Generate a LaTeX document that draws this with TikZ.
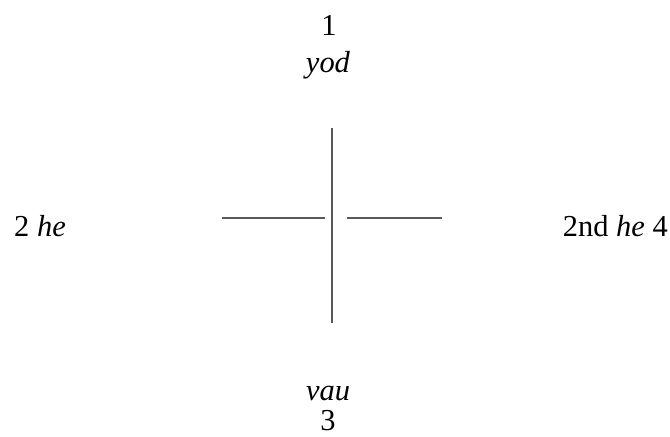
\documentclass[tikz,border=0pt]{standalone}
\usepackage{fontspec}
\setmainfont{Liberation Serif}
\usetikzlibrary{positioning}

\begin{document}
\begin{tikzpicture}[x=0.03cm, y=-0.03cm, font=\fontsize{26}{28}\selectfont,
    lbl/.style={inner sep=0pt, anchor=base},
    bar/.style={draw=black!65, line width=1.5pt}]
    \useasboundingbox (0,0) rectangle (670,436);
    % labels
    \node[lbl] (one) at (329,35) {1};
    \node[lbl] (yod) at (328,72) {\textit{yod}};
    \node[lbl, anchor=base west] (he) at (14,236) {2 \textit{he}};
    \node[lbl, anchor=base east] (he2) at (668,236) {2nd \textit{he} 4};
    \node[lbl] (vau) at (328,400) {\textit{vau}};
    \node[lbl] (three) at (328,430) {3};
    % cross
    \coordinate (top) at (332,128);
    \coordinate (bot) at (332,323);
    \coordinate (lw) at (222,218);
    \coordinate (le) at (325,218);
    \coordinate (rw) at (347,218);
    \coordinate (re) at (442,218);
    \draw[bar] (top) -- (bot);
    \draw[bar] (lw) -- (le);
    \draw[bar] (rw) -- (re);
\end{tikzpicture}
\end{document}
